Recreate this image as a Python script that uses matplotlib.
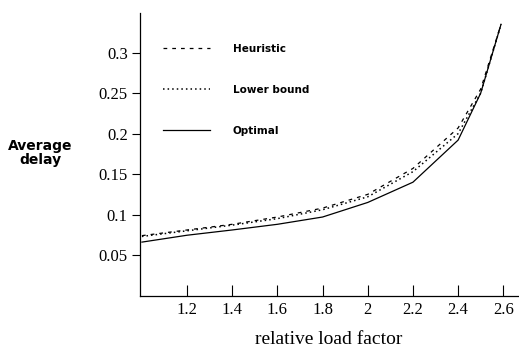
import matplotlib
matplotlib.use("Agg")
import matplotlib.pyplot as plt

# relative load factor
load = [1.0, 1.2, 1.4, 1.6, 1.8, 2.0, 2.2, 2.4, 2.5, 2.59]
heuristic = [0.074, 0.081, 0.088, 0.097, 0.108, 0.125, 0.157, 0.207, 0.255, 0.335]
lower_bound = [0.073, 0.080, 0.087, 0.095, 0.106, 0.122, 0.153, 0.200, 0.250, 0.335]
optimal = [0.066, 0.0745, 0.081, 0.088, 0.097, 0.115, 0.140, 0.192, 0.250, 0.335]

xticks = [1.2, 1.4, 1.6, 1.8, 2.0, 2.2, 2.4, 2.6]
xtick_labels = ["1.2", "1.4", "1.6", "1.8", "2", "2.2", "2.4", "2.6"]
yticks = [0.05, 0.1, 0.15, 0.2, 0.25, 0.3]
ytick_labels = ["0.05", "0.1", "0.15", "0.2", "0.25", "0.3"]

serif = "Liberation Serif"
sans = "DejaVu Sans"

fig = plt.figure(figsize=(5.19, 3.51), dpi=100)
ax = fig.add_axes([0.270, 0.158, 0.728, 0.805])

ax.plot(load, heuristic, color="black", lw=0.9, linestyle=(0, (3, 4)), label="Heuristic")
ax.plot(load, lower_bound, color="black", lw=1.1, linestyle=(0, (1, 2)), label="Lower bound")
ax.plot(load, optimal, color="black", lw=0.9, linestyle="-", label="Optimal")

ax.set_xlim(0.992, 2.665)
ax.set_ylim(0, 0.349)

ax.set_xticks(xticks)
ax.set_xticklabels(xtick_labels, fontfamily=serif, fontsize=12)
ax.set_yticks(yticks)
ax.set_yticklabels(ytick_labels, fontfamily=serif, fontsize=12)

ax.tick_params(axis="x", direction="in", length=8, width=0.8, pad=5)
ax.tick_params(axis="y", direction="out", length=6, width=0.8, pad=3)

for side in ["top", "right"]:
    ax.spines[side].set_visible(False)
ax.spines["left"].set_linewidth(0.9)
ax.spines["bottom"].set_linewidth(0.9)

ax.set_xlabel("relative load factor", fontfamily=serif, fontsize=14, labelpad=9)
ax.set_ylabel("Average\ndelay", fontfamily=sans, fontsize=10, fontweight="bold",
              rotation=0, linespacing=1.0, ha="center", va="center")
ax.yaxis.set_label_coords(-0.265, 0.505)

leg = ax.legend(loc="upper left", bbox_to_anchor=(0.035, 0.925), frameon=False,
                handlelength=4.5, handletextpad=2.2, labelspacing=3.0,
                prop={"family": sans, "size": 7.5, "weight": "bold"})

fig.savefig("out.png", dpi=100)
